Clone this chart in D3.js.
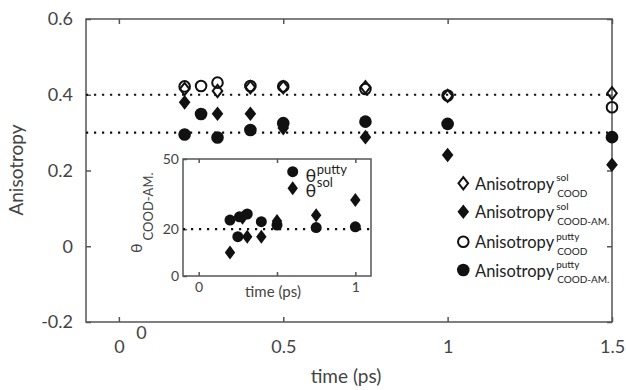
<!DOCTYPE html>
<html>
<head>
<meta charset="utf-8">
<script src="https://cdn.jsdelivr.net/npm/d3@7"></script>
<style>
  body { margin: 0; background: #fff; }
  svg { display: block; font-family: Lato, "Open Sans", sans-serif; }
</style>
</head>
<body>
<svg id="chart" width="626" height="390"></svg>
<script>
// main panel: anisotropy vs time (ps)
const times = [0.2, 0.25, 0.3, 0.4, 0.5, 0.75, 1.0, 1.5];
const solCOOD = [0.415, null, 0.41, 0.42, 0.42, 0.42, 0.397, 0.404];
const solAM = [0.38, null, 0.35, 0.35, 0.312, 0.288, 0.241, 0.215];
const puttyCOOD = [0.422, 0.423, 0.432, 0.423, 0.422, 0.415, 0.398, 0.367];
const puttyAM = [0.295, 0.349, 0.287, 0.307, 0.325, 0.329, 0.323, 0.288];
const refLines = [0.4, 0.3];
const xTicks = [0, 0.5, 1, 1.5];
const yTicks = [-0.2, 0, 0.2, 0.4, 0.6];

// inset: angle theta (COOD-AM.)
const insetPuttyT = [0.2, 0.25, 0.26, 0.31, 0.4, 0.5, 0.75, 1.0];
const insetPutty = [23.9, 16.8, 25.3, 26.5, 23.2, 21.8, 20.7, 21];
const insetSolT = [0.2, 0.28, 0.31, 0.4, 0.5, 0.75, 1.0];
const insetSol = [10, 24.9, 16.8, 16.8, 23.5, 26, 32.5];
const insetXTicks = [0, 0.5, 1];
const insetYTicks = [0, 20, 50];
const insetRef = 20;

const legendSub = ['COOD', 'COOD-AM.', 'COOD', 'COOD-AM.'];
const legendSup = ['sol', 'sol', 'putty', 'putty'];
const legendKind = ['diamondOpen', 'diamond', 'circleOpen', 'circle'];

const AXIS = '#555', TXT = '#444', INK = '#111';
const svg = d3.select('#chart');

const x = d3.scaleLinear().domain([-0.1, 1.5]).range([86, 612]);
const y = d3.scaleLinear().domain([-0.2, 0.6]).range([322, 19]);

function diamondPath(w, h) {
  return `M0,${-h}L${w},0L0,${h}L${-w},0Z`;
}

function drawMark(g, kind, cx, cy, big) {
  const r = big ? 6.3 : 5.5;
  const w = big ? 5.8 : 5.2, h = big ? 7.3 : 7;
  if (kind.startsWith('circle')) {
    g.append('circle').attr('cx', cx).attr('cy', cy)
      .attr('r', kind === 'circleOpen' ? r - 1 : r)
      .attr('fill', kind === 'circleOpen' ? 'none' : INK)
      .attr('stroke', INK).attr('stroke-width', kind === 'circleOpen' ? 2 : 0);
  } else {
    g.append('path').attr('transform', `translate(${cx},${cy})`)
      .attr('d', kind === 'diamondOpen' ? diamondPath(w - 1, h - 1.2) : diamondPath(w, h))
      .attr('fill', kind === 'diamondOpen' ? 'none' : INK)
      .attr('stroke', INK).attr('stroke-width', kind === 'diamondOpen' ? 2 : 0)
      .attr('stroke-linejoin', 'miter');
  }
}

function styleAxis(g, size) {
  g.select('.domain').remove();
  g.selectAll('.tick line').attr('stroke', AXIS).attr('stroke-width', 1.5);
  g.selectAll('.tick text').attr('fill', TXT).style('font-size', size + 'px')
    .style('font-family', 'Lato, "Open Sans", sans-serif');
}

const fmt = d => d === 0 ? '0' : (Number.isInteger(d) ? String(d) : d.toFixed(1));

// frame
svg.append('rect').attr('x', 86).attr('y', 19).attr('width', 526).attr('height', 303)
  .attr('fill', 'none').attr('stroke', AXIS).attr('stroke-width', 1.5);

svg.append('g').attr('transform', 'translate(0,322)')
  .call(d3.axisBottom(x).tickValues(xTicks).tickSize(-5).tickPadding(18).tickFormat(fmt))
  .call(g => styleAxis(g, 18));
svg.append('g').attr('transform', 'translate(0,19)')
  .call(d3.axisTop(x).tickValues(xTicks).tickSize(-5).tickFormat(''))
  .call(g => styleAxis(g, 18));
svg.append('g').attr('transform', 'translate(86,0)')
  .call(d3.axisLeft(y).tickValues(yTicks).tickSize(-5).tickPadding(13).tickFormat(fmt))
  .call(g => styleAxis(g, 18));
svg.append('g').attr('transform', 'translate(612,0)')
  .call(d3.axisRight(y).tickValues(yTicks).tickSize(-5).tickFormat(''))
  .call(g => styleAxis(g, 18));

// stray zero under the axis
svg.append('text').attr('x', 141.5).attr('y', 338.5).attr('text-anchor', 'middle')
  .attr('fill', TXT).style('font-size', '18px').text('0');

// axis titles
svg.append('text').attr('transform', 'translate(23,170) rotate(-90)')
  .attr('text-anchor', 'middle').attr('fill', TXT).style('font-size', '19px').text('Anisotropy');
svg.append('text').attr('x', 346).attr('y', 383).attr('text-anchor', 'middle')
  .attr('fill', TXT).style('font-size', '19px').text('time (ps)');

// dotted reference lines
svg.selectAll('.ref').data(refLines).join('line').attr('class', 'ref')
  .attr('x1', 86).attr('x2', 612).attr('y1', d => y(d)).attr('y2', d => y(d))
  .attr('stroke', INK).attr('stroke-width', 2.2).attr('stroke-dasharray', '2.2 5.8');

// data marks
const marks = svg.append('g');
const series = [
  { vals: puttyAM, kind: 'circle' },
  { vals: solAM, kind: 'diamond' },
  { vals: puttyCOOD, kind: 'circleOpen' },
  { vals: solCOOD, kind: 'diamondOpen' }
];
series.forEach(s => {
  times.forEach((t, i) => {
    if (s.vals[i] != null) drawMark(marks, s.kind, x(t), y(s.vals[i]), true);
  });
});

// legend
const legend = svg.append('g');
const rowY = [183.3, 211.7, 241.7, 270];
legendKind.forEach((k, i) => {
  drawMark(legend, k, 463.3, rowY[i], true);
  const t = legend.append('text').attr('x', 475).attr('y', rowY[i] + 6.5)
    .attr('fill', '#222').style('font-size', '16.5px').text('Anisotropy');
  const wEnd = 475 + t.node().getComputedTextLength() + 2;
  legend.append('text').attr('x', wEnd).attr('y', rowY[i] - 2)
    .attr('fill', '#222').style('font-size', '10px').text(legendSup[i]);
  legend.append('text').attr('x', wEnd + 1).attr('y', rowY[i] + 13.4)
    .attr('fill', '#222').style('font-size', '10px').text(legendSub[i]);
});

// inset panel
const ix = d3.scaleLinear().domain([-0.1, 1.1]).range([183, 371]);
const iy = d3.scaleLinear().domain([0, 50]).range([276, 159]);
const inset = svg.append('g');
inset.append('rect').attr('x', 183).attr('y', 159).attr('width', 188).attr('height', 117)
  .attr('fill', '#fff').attr('stroke', AXIS).attr('stroke-width', 1.5);

inset.append('g').attr('transform', 'translate(0,276)')
  .call(d3.axisBottom(ix).tickValues(insetXTicks).tickSize(-4).tickPadding(6)
    .tickFormat(d => d === 0.5 ? '' : String(d)))
  .call(g => styleAxis(g, 14));
inset.append('g').attr('transform', 'translate(0,159)')
  .call(d3.axisTop(ix).tickValues(insetXTicks).tickSize(-4).tickFormat(''))
  .call(g => styleAxis(g, 14));
inset.append('g').attr('transform', 'translate(183,0)')
  .call(d3.axisLeft(iy).tickValues(insetYTicks).tickSize(-4).tickPadding(4).tickFormat(String))
  .call(g => styleAxis(g, 14));

inset.append('text').attr('x', 273).attr('y', 297).attr('text-anchor', 'middle')
  .attr('fill', TXT).style('font-size', '15px').text('time (ps)');

const iyLabel = inset.append('text').attr('transform', 'translate(141.7,253) rotate(-90)')
  .attr('fill', TXT).style('font-size', '16px');
iyLabel.append('tspan').text('θ');
iyLabel.append('tspan').attr('dx', 3).attr('dy', 11).style('font-size', '13px').text('COOD-AM.');

inset.append('line').attr('x1', 183).attr('x2', 371)
  .attr('y1', iy(insetRef)).attr('y2', iy(insetRef))
  .attr('stroke', INK).attr('stroke-width', 2.2).attr('stroke-dasharray', '2.2 5.8');

insetPuttyT.forEach((t, i) => drawMark(inset, 'circle', ix(t), iy(insetPutty[i]), false));
insetSolT.forEach((t, i) => drawMark(inset, 'diamond', ix(t), iy(insetSol[i]), false));

// inset legend
[['circle', 'putty', 171.7, 181.5, -7.5], ['diamond', 'sol', 188.3, 196.5, -10]].forEach(r => {
  drawMark(inset, r[0], 292.7, r[2], false);
  const t = inset.append('text').attr('x', 305.5).attr('y', r[3]).attr('fill', '#222')
    .style('font-size', '18px');
  t.append('tspan').text('θ');
  t.append('tspan').attr('dy', r[4]).attr('dx', 0.5).style('font-size', '13px').text(r[1]);
});
</script>
</body>
</html>
